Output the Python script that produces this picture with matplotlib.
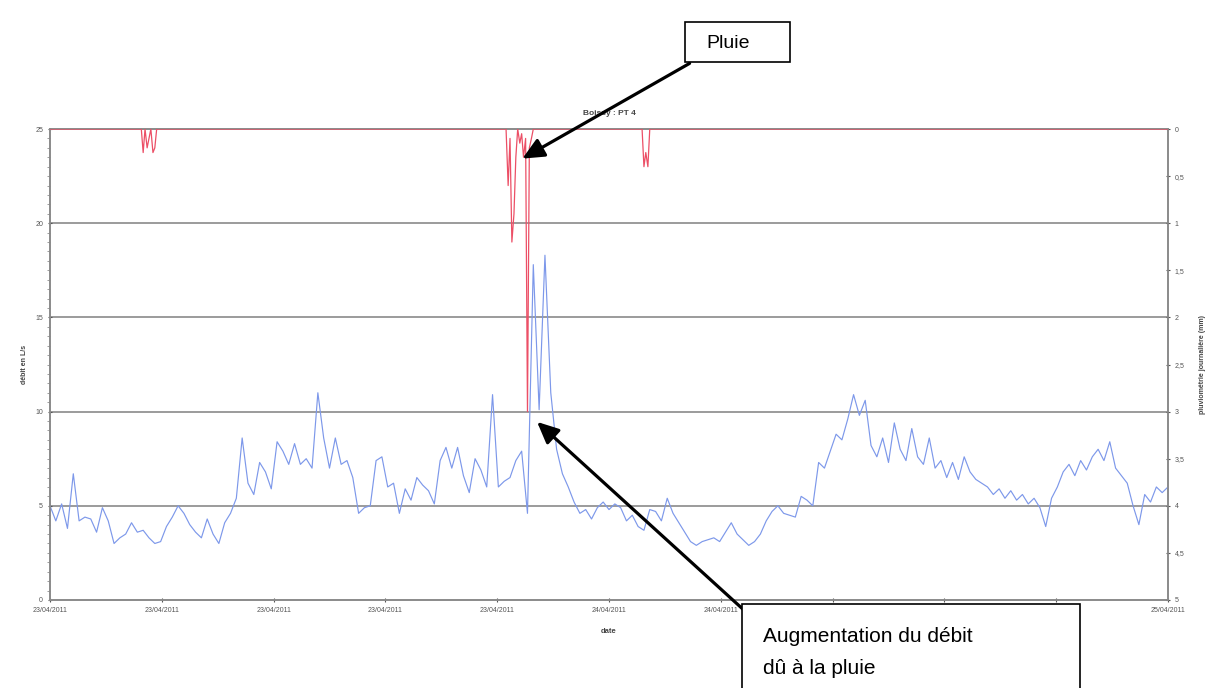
import numpy as np
import pandas as pd
import matplotlib
matplotlib.use("Agg")
import matplotlib.pyplot as plt
from matplotlib.patches import Rectangle

plt.rcParams['font.family'] = ['Liberation Sans', 'DejaVu Sans']

# debit (L/s), one value every 15 min from 23/04/2011 00:00 to 25/04/2011 00:00
debit = [5.0, 4.2, 5.1, 3.8, 6.7, 4.2, 4.4, 4.3, 3.6, 4.9,
         4.2, 3.0, 3.3, 3.5, 4.1, 3.6, 3.7, 3.3, 3.0, 3.1,
         3.9, 4.4, 5.0, 4.6, 4.0, 3.6, 3.3, 4.3, 3.5, 3.0,
         4.1, 4.6, 5.4, 8.6, 6.2, 5.6, 7.3, 6.8, 5.9, 8.4,
         7.9, 7.2, 8.3, 7.2, 7.5, 7.0, 11.0, 8.6, 7.0, 8.6,
         7.2, 7.4, 6.5, 4.6, 4.9, 5.0, 7.4, 7.6, 6.0, 6.2,
         4.6, 5.9, 5.3, 6.5, 6.1, 5.8, 5.1, 7.4, 8.1, 7.0,
         8.1, 6.6, 5.7, 7.5, 6.9, 6.0, 10.9, 6.0, 6.3, 6.5,
         7.4, 7.9, 4.6, 17.8, 10.1, 18.3, 11.0, 8.0, 6.7, 6.0,
         5.2, 4.6, 4.8, 4.3, 4.9, 5.2, 4.8, 5.1, 4.9, 4.2,
         4.5, 3.9, 3.7, 4.8, 4.7, 4.2, 5.4, 4.6, 4.1, 3.6,
         3.1, 2.9, 3.1, 3.2, 3.3, 3.1, 3.6, 4.1, 3.5, 3.2,
         2.9, 3.1, 3.5, 4.2, 4.7, 5.0, 4.6, 4.5, 4.4, 5.5,
         5.3, 5.0, 7.3, 7.0, 7.9, 8.8, 8.5, 9.6, 10.9, 9.8,
         10.6, 8.2, 7.6, 8.6, 7.3, 9.4, 8.0, 7.4, 9.1, 7.6,
         7.2, 8.6, 7.0, 7.4, 6.5, 7.3, 6.4, 7.6, 6.8, 6.4,
         6.2, 6.0, 5.6, 5.9, 5.4, 5.8, 5.3, 5.6, 5.1, 5.4,
         4.9, 3.9, 5.4, 6.0, 6.8, 7.2, 6.6, 7.4, 6.9, 7.6,
         8.0, 7.4, 8.4, 7.0, 6.6, 6.2, 5.0, 4.0, 5.6, 5.2,
         6.0, 5.7, 6.0]

# pluie (mm): hours after 23/04 00:00 and values
pluie_h = [0.0, 3.92, 4.0, 4.08, 4.17, 4.33, 4.42, 4.5, 4.58,
           19.58, 19.67, 19.75, 19.83, 19.92, 20.0, 20.08, 20.17, 20.25,
           20.33, 20.42, 20.5, 20.58, 20.67, 20.75,
           25.42, 25.5, 25.58, 25.67, 25.75, 48.0]
pluie = [0, 0, 0.25, 0.0, 0.2, 0.0, 0.25, 0.2, 0,
         0, 0.6, 0.1, 1.2, 0.9, 0.3, 0.0, 0.15, 0.05,
         0.3, 0.1, 3.0, 0.2, 0.1, 0,
         0, 0.4, 0.25, 0.4, 0, 0]

start = pd.Timestamp("2011-04-23 00:00")
t_debit = pd.date_range(start, periods=len(debit), freq="15min")
t_pluie = [start + pd.Timedelta(hours=h) for h in pluie_h]
xticks = pd.date_range(start, periods=11, freq="288min")

W, H = 1208, 688
fig = plt.figure(figsize=(W / 100, H / 100), dpi=100)
ax = fig.add_axes([50 / W, 1 - 600 / H, 1118 / W, 471 / H])

grid_c = "#8a8a8a"
ax.plot(t_debit, debit, color="#7d98ea", lw=0.85, zorder=3)
ax.set_ylim(0, 25)
ax.set_xlim(start, start + pd.Timedelta(hours=48))
ax.set_yticks([0, 5, 10, 15, 20, 25])
ax.set_yticks(np.arange(0, 25.1, 0.5), minor=True)
for v in [5, 10, 15, 20]:
    ax.axhline(v, color=grid_c, lw=1.2, zorder=1)

ax.set_xticks(xticks)
ax.set_xticklabels([d.strftime("%d/%m/%Y") for d in xticks])

ax2 = ax.twinx()
ax2.plot(t_pluie, pluie, color="#ec4f66", lw=0.9, zorder=4)
ax2.set_ylim(5, 0)
ax2.set_yticks(np.arange(0, 5.01, 0.5))
ax2.set_yticklabels([("%g" % v).replace(".", ",") for v in np.arange(0, 5.01, 0.5)])

for a in (ax, ax2):
    for s in a.spines.values():
        s.set_color(grid_c)
        s.set_linewidth(1.2)
    a.tick_params(labelsize=5, colors="#555555", length=3, width=0.8, direction="inout")
    a.tick_params(which="minor", length=2, width=0.5, colors="#777777")

ax.set_ylabel("débit en L/s", fontsize=5, fontweight="bold", color="#444444", labelpad=5)
ax2.set_ylabel("pluviométrie journalière (mm)", fontsize=5, fontweight="bold",
               color="#444444", labelpad=10)
ax.set_xlabel("date", fontsize=5.5, fontweight="bold", color="#444444", labelpad=10)
ax.set_title("Boissy : PT 4", fontsize=6, fontweight="bold", color="#444444", pad=10)


def fx(x):
    return x / W


def fy(y):
    return 1 - y / H


# callout boxes
fig.patches.append(Rectangle((fx(685), fy(62)), fx(790) - fx(685), fy(22) - fy(62),
                             transform=fig.transFigure, facecolor="white",
                             edgecolor="black", lw=1.2, zorder=10))
fig.text(fx(706), fy(43), "Pluie", fontsize=14, va="center", ha="left", zorder=11)

fig.patches.append(Rectangle((fx(742), fy(700)), fx(1080) - fx(742), fy(604) - fy(700),
                             transform=fig.transFigure, facecolor="white",
                             edgecolor="black", lw=1.2, zorder=10))
fig.text(fx(763), fy(636), "Augmentation du débit", fontsize=15, va="center", ha="left", zorder=11)
fig.text(fx(763), fy(668), "dû à la pluie", fontsize=15, va="center", ha="left", zorder=11)

arrow = dict(arrowstyle="-|>,head_length=1.3,head_width=0.6", color="black", lw=2.3)
ax2.annotate("", xy=(fx(520), fy(160)), xycoords="figure fraction",
             xytext=(fx(692), fy(62)), textcoords="figure fraction",
             arrowprops=arrow, zorder=12)
ax2.annotate("", xy=(fx(535), fy(420)), xycoords="figure fraction",
             xytext=(fx(757), fy(622)), textcoords="figure fraction",
             arrowprops=arrow, zorder=12)

fig.savefig("out.png", dpi=100)
